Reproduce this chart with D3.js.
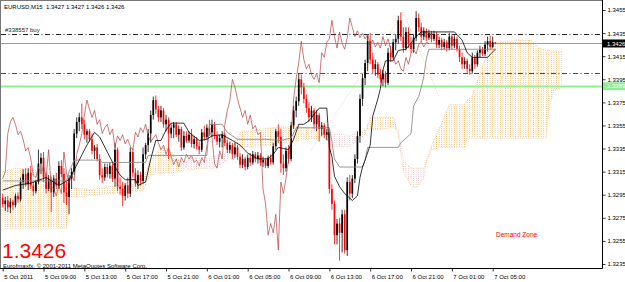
<!DOCTYPE html>
<html lang="en">
<head>
<meta charset="UTF-8">
<title>EURUSD,M15</title>
<script src="https://d3js.org/d3.v7.min.js"></script>
<style>
  body { margin: 0; background: #fff; }
  svg { display: block; font-family: "Liberation Sans", Arial, sans-serif; }
  .axis text { font-size: 6px; fill: #000; }
  .axis line { stroke: #000; stroke-width: 0.8; }
</style>
</head>
<body>
<svg id="chart" width="625" height="282"></svg>
<script>
// price ticks on the right scale
const priceTicks = [1.3455, 1.3435, 1.3415, 1.3395, 1.3375, 1.3355, 1.3335, 1.3315, 1.3295, 1.3275, 1.3255, 1.3235];

// time labels (bar index, 15 min bars, bar 0 = 5 Oct 05:00)
const timeTickBars = [0, 16, 32, 48, 64, 80, 96, 112, 128, 144, 160, 176, 192];
const timeLabels = ["5 Oct 2011", "5 Oct 09:00", "5 Oct 13:00", "5 Oct 17:00", "5 Oct 21:00",
  "6 Oct 01:00", "6 Oct 05:00", "6 Oct 09:00", "6 Oct 13:00", "6 Oct 17:00",
  "6 Oct 21:00", "7 Oct 01:00", "7 Oct 05:00"];

// candles: [open, high, low, close]
const candles = [
  [1.3292,1.3296,1.3284,1.3287],[1.3287,1.3293,1.3281,1.3290],[1.3290,1.3294,1.3280,1.3284],[1.3284,1.3292,1.3279,1.3289],
  [1.3289,1.3291,1.3282,1.3286],[1.3286,1.3296,1.3284,1.3294],[1.3294,1.3297,1.3288,1.3291],[1.3291,1.3310,1.3289,1.3306],
  [1.3306,1.3317,1.3300,1.3313],[1.3313,1.3318,1.3302,1.3304],[1.3304,1.3318,1.3299,1.3314],[1.3314,1.3320,1.3300,1.3303],
  [1.3303,1.3306,1.3294,1.3298],[1.3298,1.3308,1.3296,1.3306],[1.3306,1.3334,1.3304,1.3322],[1.3322,1.3331,1.3315,1.3327],
  [1.3327,1.3332,1.3306,1.3310],[1.3310,1.3314,1.3296,1.3300],[1.3300,1.3312,1.3298,1.3308],[1.3308,1.3311,1.3280,1.3297],
  [1.3297,1.3312,1.3293,1.3309],[1.3309,1.3314,1.3300,1.3303],[1.3303,1.3324,1.3300,1.3320],[1.3320,1.3325,1.3310,1.3313],
  [1.3313,1.3318,1.3288,1.3297],[1.3297,1.3306,1.3286,1.3293],[1.3293,1.3312,1.3278,1.3309],[1.3309,1.3318,1.3300,1.3315],
  [1.3315,1.3352,1.3312,1.3348],[1.3348,1.3362,1.3344,1.3358],[1.3358,1.3366,1.3350,1.3362],[1.3362,1.3374,1.3352,1.3356],
  [1.3356,1.3360,1.3343,1.3347],[1.3347,1.3352,1.3340,1.3350],[1.3350,1.3352,1.3341,1.3343],[1.3343,1.3348,1.3330,1.3333],
  [1.3333,1.3338,1.3326,1.3336],[1.3336,1.3339,1.3324,1.3326],[1.3326,1.3330,1.3308,1.3312],[1.3312,1.3318,1.3305,1.3310],
  [1.3310,1.3322,1.3307,1.3319],[1.3319,1.3322,1.3310,1.3313],[1.3313,1.3323,1.3309,1.3320],[1.3320,1.3322,1.3306,1.3309],
  [1.3309,1.3340,1.3302,1.3334],[1.3334,1.3336,1.3298,1.3302],[1.3302,1.3310,1.3295,1.3300],[1.3300,1.3306,1.3285,1.3294],
  [1.3294,1.3305,1.3290,1.3303],[1.3303,1.3310,1.3292,1.3296],[1.3296,1.3336,1.3293,1.3332],[1.3332,1.3335,1.3310,1.3314],
  [1.3314,1.3318,1.3302,1.3305],[1.3305,1.3316,1.3300,1.3312],[1.3312,1.3315,1.3303,1.3307],[1.3307,1.3336,1.3305,1.3330],
  [1.3330,1.3340,1.3326,1.3338],[1.3338,1.3352,1.3332,1.3348],[1.3348,1.3368,1.3340,1.3364],[1.3364,1.3380,1.3360,1.3377],
  [1.3377,1.3381,1.3365,1.3369],[1.3369,1.3372,1.3358,1.3362],[1.3362,1.3372,1.3358,1.3368],[1.3368,1.3370,1.3353,1.3356],
  [1.3356,1.3364,1.3350,1.3360],[1.3360,1.3362,1.3326,1.3348],[1.3348,1.3356,1.3344,1.3353],[1.3353,1.3358,1.3344,1.3356],
  [1.3356,1.3358,1.3345,1.3347],[1.3347,1.3355,1.3341,1.3352],[1.3352,1.3354,1.3333,1.3336],[1.3336,1.3350,1.3334,1.3346],
  [1.3346,1.3350,1.3340,1.3342],[1.3342,1.3350,1.3340,1.3347],[1.3347,1.3352,1.3336,1.3339],[1.3339,1.3346,1.3335,1.3343],
  [1.3343,1.3345,1.3334,1.3337],[1.3337,1.3341,1.3330,1.3334],[1.3334,1.3352,1.3332,1.3349],[1.3349,1.3355,1.3342,1.3345],
  [1.3345,1.3356,1.3343,1.3353],[1.3353,1.3360,1.3346,1.3349],[1.3349,1.3360,1.3345,1.3356],[1.3356,1.3358,1.3343,1.3346],
  [1.3346,1.3350,1.3338,1.3341],[1.3341,1.3347,1.3336,1.3344],[1.3344,1.3350,1.3336,1.3347],[1.3347,1.3349,1.3337,1.3340],
  [1.3340,1.3343,1.3331,1.3334],[1.3334,1.3341,1.3331,1.3338],[1.3338,1.3340,1.3326,1.3330],[1.3330,1.3340,1.3327,1.3336],
  [1.3336,1.3338,1.3325,1.3328],[1.3328,1.3331,1.3318,1.3321],[1.3321,1.3330,1.3318,1.3326],[1.3326,1.3328,1.3316,1.3319],
  [1.3319,1.3330,1.3317,1.3327],[1.3327,1.3331,1.3320,1.3323],[1.3323,1.3333,1.3321,1.3330],[1.3330,1.3332,1.3323,1.3326],
  [1.3326,1.3332,1.3322,1.3329],[1.3329,1.3331,1.3320,1.3323],[1.3323,1.3328,1.3319,1.3325],[1.3325,1.3327,1.3318,1.3320],
  [1.3320,1.3329,1.3318,1.3327],[1.3327,1.3330,1.3321,1.3323],[1.3323,1.3340,1.3321,1.3337],[1.3337,1.3352,1.3334,1.3350],
  [1.3350,1.3356,1.3340,1.3345],[1.3345,1.3352,1.3314,1.3322],[1.3322,1.3330,1.3312,1.3318],[1.3318,1.3336,1.3315,1.3333],
  [1.3333,1.3338,1.3322,1.3326],[1.3326,1.3358,1.3324,1.3355],[1.3355,1.3372,1.3352,1.3368],[1.3368,1.3380,1.3362,1.3376],
  [1.3376,1.3400,1.3372,1.3395],[1.3395,1.3399,1.3382,1.3388],[1.3388,1.3392,1.3374,1.3378],[1.3378,1.3382,1.3366,1.3370],
  [1.3370,1.3375,1.3358,1.3362],[1.3362,1.3372,1.3358,1.3368],[1.3368,1.3370,1.3352,1.3356],[1.3356,1.3368,1.3350,1.3364],
  [1.3364,1.3366,1.3341,1.3352],[1.3352,1.3358,1.3346,1.3355],[1.3355,1.3357,1.3344,1.3347],[1.3347,1.3352,1.3342,1.3349],
  [1.3349,1.3352,1.3296,1.3300],[1.3300,1.3304,1.3282,1.3287],[1.3287,1.3290,1.3252,1.3260],[1.3260,1.3274,1.3252,1.3270],
  [1.3270,1.3275,1.3238,1.3262],[1.3262,1.3282,1.3245,1.3278],[1.3278,1.3282,1.3244,1.3247],[1.3247,1.3310,1.3242,1.3306],
  [1.3306,1.3312,1.3290,1.3296],[1.3296,1.3312,1.3292,1.3309],[1.3309,1.3330,1.3305,1.3326],[1.3326,1.3350,1.3322,1.3346],
  [1.3346,1.3382,1.3340,1.3378],[1.3378,1.3400,1.3372,1.3396],[1.3396,1.3412,1.3390,1.3409],[1.3409,1.3433,1.3402,1.3428],
  [1.3428,1.3435,1.3408,1.3412],[1.3412,1.3418,1.3400,1.3404],[1.3404,1.3412,1.3398,1.3408],[1.3408,1.3410,1.3396,1.3399],
  [1.3399,1.3404,1.3392,1.3395],[1.3395,1.3403,1.3389,1.3400],[1.3400,1.3402,1.3388,1.3392],[1.3392,1.3422,1.3390,1.3418],
  [1.3418,1.3424,1.3410,1.3414],[1.3414,1.3430,1.3412,1.3427],[1.3427,1.3434,1.3420,1.3430],[1.3430,1.3450,1.3426,1.3446],
  [1.3446,1.3453,1.3428,1.3432],[1.3432,1.3440,1.3418,1.3422],[1.3422,1.3440,1.3420,1.3436],[1.3436,1.3440,1.3422,1.3426],
  [1.3426,1.3432,1.3418,1.3421],[1.3421,1.3434,1.3418,1.3431],[1.3431,1.3454,1.3428,1.3448],[1.3448,1.3452,1.3436,1.3440],
  [1.3440,1.3444,1.3428,1.3432],[1.3432,1.3440,1.3429,1.3437],[1.3437,1.3439,1.3428,1.3431],[1.3431,1.3438,1.3429,1.3435],
  [1.3435,1.3437,1.3427,1.3430],[1.3430,1.3437,1.3428,1.3434],[1.3434,1.3436,1.3422,1.3425],[1.3425,1.3432,1.3422,1.3429],
  [1.3429,1.3431,1.3420,1.3423],[1.3423,1.3430,1.3421,1.3427],[1.3427,1.3429,1.3419,1.3422],[1.3422,1.3435,1.3420,1.3432],
  [1.3432,1.3434,1.3421,1.3424],[1.3424,1.3433,1.3422,1.3430],[1.3430,1.3432,1.3419,1.3421],[1.3421,1.3424,1.3410,1.3414],
  [1.3414,1.3418,1.3404,1.3408],[1.3408,1.3414,1.3404,1.3411],[1.3411,1.3413,1.3400,1.3404],[1.3404,1.3408,1.3399,1.3402],
  [1.3402,1.3418,1.3400,1.3414],[1.3414,1.3416,1.3404,1.3408],[1.3408,1.3420,1.3406,1.3418],[1.3418,1.3424,1.3414,1.3421],
  [1.3421,1.3423,1.3415,1.3417],[1.3417,1.3428,1.3415,1.3425],[1.3425,1.3432,1.3419,1.3428],[1.3428,1.3433,1.3421,1.3423],
  [1.3423,1.3432,1.3422,1.3427],[1.3427,1.3427,1.3426,1.3426]
];

// Ichimoku lines as [bar, price] vertices
const tenkan = [
  [0,1.3299],[5,1.3303],[11,1.3305],[17,1.3310],[22,1.3303],[26,1.3308],[30,1.3325],[33,1.3338],[36,1.3349],
  [38,1.3345],[44,1.3319],[46,1.3312],[48,1.3308],[52,1.3308],[53,1.3303],[56,1.3306],[58,1.3326],[60,1.3342],
  [62,1.3342],[64,1.3351],[66,1.3357],[71,1.3357],[73,1.3349],[77,1.3342],[80,1.3343],[82,1.3346],[86,1.3347],
  [90,1.3342],[93,1.3338],[96,1.3331],[100,1.3326],[104,1.3326],[106,1.3330],[108,1.3336],[110,1.3335],[112,1.3334],
  [114,1.3343],[116,1.3356],[118,1.3356],[120,1.3359],[124,1.3370],[127,1.3370],[128,1.3336],[129,1.3328],[130,1.3311],
  [132,1.3302],[134,1.3296],[137,1.3290],[139,1.3294],[140,1.3310],[141,1.3319],[142,1.3325],[144,1.3338],[145,1.3363],
  [147,1.3378],[148,1.3387],[149,1.3403],[150,1.3411],[153,1.3411],[155,1.3420],[158,1.3421],[162,1.3432],[164,1.3436],
  [177,1.3436],[180,1.3429],[182,1.3418],[184,1.3414],[190,1.3414],[193,1.3421]
];
const kijun = [
  [0,1.3307],[25,1.3307],[26,1.3315],[28,1.3325],[38,1.3325],[39,1.3323],[56,1.3323],[57,1.3329],[80,1.3329],
  [81,1.3356],[86,1.3356],[88,1.3349],[92,1.3343],[103,1.3343],[109,1.3342],[113,1.3344],[115,1.3353],[128,1.3353],
  [129,1.3341],[130,1.3326],[132,1.3319],[141,1.3319],[142,1.3325],[143,1.3336],[155,1.3336],[156,1.3340],[160,1.3348],
  [161,1.3372],[163,1.3380],[164,1.3388],[165,1.3397],[166,1.3413],[167,1.3421],[193,1.3421]
];
const chikouShift = 26;

// cloud (senkou span A / B), already shifted forward
const cloudBars = [0,5,13,18,22,25,26,34,42,50,55,58,62,64,67,71,73,77,83,88,90,93,105,116,124,129,136,142,144,153,
  155,157,160,162,165,166,168,172,175,181,182,184,188,190,192,195,204,207,210,213,214,216,219];
const spanA = [1.3315,1.3318,1.3316,1.3310,1.3306,1.3303,1.3302,1.3299,1.3302,1.3303,1.3308,1.3325,1.3336,1.3336,
  1.3329,1.3321,1.3316,1.3318,1.3318,1.3325,1.3338,1.3349,1.3353,1.3354,1.3351,1.3337,1.3337,1.3347,1.3362,1.3362,
  1.3347,1.3315,1.3303,1.3301,1.3309,1.3325,1.3337,1.3357,1.3373,1.3373,1.3377,1.3381,1.3406,1.3418,1.3426,1.3427,
  1.3429,1.3429,1.3422,1.3420,1.3420,1.3419,1.3419];
const spanB = [1.3266,1.3266,1.3266,1.3266,1.3266,1.3266,1.3293,1.3294,1.3296,1.3297,1.3299,1.3312,1.3314,1.3314,
  1.3314,1.3316,1.3327,1.3327,1.3328,1.3332,1.3334,1.3336,1.3338,1.3342,1.3344,1.3349,1.3346,1.3351,1.3351,1.3353,
  1.3351,1.3325,1.3318,1.3318,1.3318,1.3323,1.3334,1.3336,1.3336,1.3336,1.3344,1.3344,1.3344,1.3344,1.3344,1.3344,
  1.3344,1.3344,1.3344,1.3344,1.3368,1.3386,1.3387];

// dotted trend line object
const trendLine = [[121,1.3334],[157,1.3453],[171,1.3380]];

// horizontal levels
const orderLevel = 1.3434;
const bidLevel = 1.3426;
const redLevel = 1.3400;
const zoneLevel = 1.3389;

const svg = d3.select("#chart");
const right = 602, bottom = 268;

const x = d3.scaleLinear().domain([0, 192]).range([2.7, 492.7]);
const y = d3.scaleLinear().domain([1.3235, 1.3455]).range([264, 10]);

const defs = svg.append("defs");
defs.append("clipPath").attr("id", "plotClip")
  .append("rect").attr("x", 1).attr("y", 1).attr("width", right - 1).attr("height", bottom - 1);

// vertical dotted hatch like the terminal draws the cloud
const step = x(1) - x(0);
function hatch(id, color) {
  const p = defs.append("pattern").attr("id", id)
    .attr("patternUnits", "userSpaceOnUse")
    .attr("x", x(0) - 0.5).attr("y", 0)
    .attr("width", step).attr("height", 2);
  p.append("rect").attr("width", 0.9).attr("height", 1).attr("fill", color);
}
hatch("hatchA", "#f0b868");
hatch("hatchB", "#e6c8cf");

const plot = svg.append("g").attr("clip-path", "url(#plotClip)");

// cloud
const cloud = cloudBars.map((t, i) => ({ t: t, sa: spanA[i], sb: spanB[i] }));
const areaA = d3.area().x(d => x(d.t)).y0(d => y(d.sb)).y1(d => y(Math.max(d.sa, d.sb)));
const areaB = d3.area().x(d => x(d.t)).y0(d => y(d.sa)).y1(d => y(Math.max(d.sa, d.sb)));
plot.append("path").datum(cloud).attr("d", areaA).attr("fill", "url(#hatchA)").attr("opacity", 0.85);
plot.append("path").datum(cloud).attr("d", areaB).attr("fill", "url(#hatchB)");

const spanLine = key => d3.line().x(d => x(d.t)).y(d => y(d[key]));
plot.append("path").datum(cloud).attr("d", spanLine("sa"))
  .attr("fill", "none").attr("stroke", "#eea860").attr("stroke-width", 0.8)
  .attr("stroke-dasharray", "1,1.2").attr("opacity", 0.7);
plot.append("path").datum(cloud).attr("d", spanLine("sb"))
  .attr("fill", "none").attr("stroke", "#e4b080").attr("stroke-width", 0.8)
  .attr("stroke-dasharray", "1,1.2").attr("opacity", 0.6);

// trend line object
plot.append("path").datum(trendLine)
  .attr("d", d3.line().x(d => x(d[0])).y(d => y(d[1])))
  .attr("fill", "none").attr("stroke", "#f0b070").attr("stroke-width", 0.8)
  .attr("stroke-dasharray", "1,1.5").attr("opacity", 0.7);

// horizontal lines, snapped to pixel rows
function hline(level, color, width, dash) {
  const ly = Math.round(y(level)) + 0.5;
  const l = plot.append("line")
    .attr("x1", 1).attr("x2", right)
    .attr("y1", ly).attr("y2", ly)
    .attr("stroke", color).attr("stroke-width", width);
  if (dash) l.attr("stroke-dasharray", dash);
}
hline(zoneLevel, "#90ee90", 2, null);
hline(redLevel, "#ff0000", 1, "5,2.5,1,2.5");
hline(bidLevel, "#8fa1b6", 1, null);
hline(orderLevel, "#222", 1, "5,2.5,1,2.5");

// candles
const bars = plot.append("g");
candles.forEach((c, i) => {
  const [o, h, l, cl] = c;
  const color = cl >= o ? "#000" : "#ff0000";
  bars.append("line")
    .attr("x1", x(i)).attr("x2", x(i))
    .attr("y1", y(h)).attr("y2", y(l))
    .attr("stroke", color).attr("stroke-width", 0.8);
  const top = y(Math.max(o, cl));
  bars.append("rect")
    .attr("x", x(i) - 0.85).attr("width", 1.7)
    .attr("y", top)
    .attr("height", Math.max(0.7, y(Math.min(o, cl)) - top))
    .attr("fill", color);
});

// chikou span: closes shifted back
const chikou = candles.map((c, i) => [i - chikouShift, c[3]]).filter(d => d[0] >= 0);
const ptLine = d3.line().x(d => x(d[0])).y(d => y(d[1]));
plot.append("path").datum(chikou).attr("d", ptLine)
  .attr("fill", "none").attr("stroke", "#b23a3a").attr("stroke-width", 0.8).attr("opacity", 0.85);
plot.append("path").datum(kijun).attr("d", ptLine)
  .attr("fill", "none").attr("stroke", "#8c8c8c").attr("stroke-width", 0.9);
plot.append("path").datum(tenkan).attr("d", ptLine)
  .attr("fill", "none").attr("stroke", "#000").attr("stroke-width", 0.8);

// frame
svg.append("line").attr("x1", 0).attr("x2", right).attr("y1", 0.5).attr("y2", 0.5)
  .attr("stroke", "#777").attr("stroke-width", 1);
svg.append("line").attr("x1", 0.5).attr("x2", 0.5).attr("y1", 0).attr("y2", bottom)
  .attr("stroke", "#777").attr("stroke-width", 1);
svg.append("line").attr("x1", right + 0.5).attr("x2", right + 0.5).attr("y1", 0).attr("y2", bottom + 0.5)
  .attr("stroke", "#000").attr("stroke-width", 1);
svg.append("line").attr("x1", 0).attr("x2", right + 0.5).attr("y1", bottom + 0.5).attr("y2", bottom + 0.5)
  .attr("stroke", "#000").attr("stroke-width", 1);

// right price axis
const yAxis = svg.append("g").attr("class", "axis")
  .attr("transform", `translate(${right + 0.5},0)`)
  .call(d3.axisRight(y).tickValues(priceTicks).tickFormat(d3.format(".4f")).tickSize(3).tickPadding(2).tickSizeOuter(0));
yAxis.select(".domain").remove();

// highlighted price labels
function priceTag(level, bg, fg) {
  const g = svg.append("g");
  g.append("rect").attr("x", right + 1).attr("y", y(level) - 4).attr("width", 23).attr("height", 8).attr("fill", bg);
  g.append("text").attr("x", right + 5).attr("y", y(level)).attr("dy", "0.34em")
    .attr("font-size", 6).attr("fill", fg).text(d3.format(".4f")(level));
}
priceTag(bidLevel, "#000", "#fff");
priceTag(zoneLevel, "#90ee90", "#fff");

// bottom time axis
const xAxis = svg.append("g").attr("class", "axis")
  .attr("transform", `translate(0,${bottom + 0.5})`)
  .call(d3.axisBottom(x).tickValues(timeTickBars).tickFormat((d, i) => timeLabels[i]).tickSize(3).tickSizeOuter(0));
xAxis.select(".domain").remove();
xAxis.selectAll("text").attr("text-anchor", "start").attr("dx", 1);

// texts
svg.append("text").attr("x", 4).attr("y", 9).attr("font-size", 6).attr("fill", "#000")
  .style("white-space", "pre").text("EURUSD,M15  1.3427 1.3427 1.3426 1.3426");
svg.append("text").attr("x", 5).attr("y", 32).attr("font-size", 6).attr("fill", "#222")
  .text("#338557 buy");
svg.append("text").attr("x", 496).attr("y", 237).attr("font-size", 6.5).attr("fill", "#ff0000")
  .text("Demand Zone");
svg.append("text").attr("x", 2).attr("y", 257.5).attr("font-size", 21).attr("fill", "#ff0000")
  .text("1.3426");
svg.append("text").attr("x", 3).attr("y", 267.5).attr("font-size", 6).attr("fill", "#000")
  .text("Eurofmaxfx, © 2001-2011 MetaQuotes Software Corp.");
</script>
</body>
</html>
